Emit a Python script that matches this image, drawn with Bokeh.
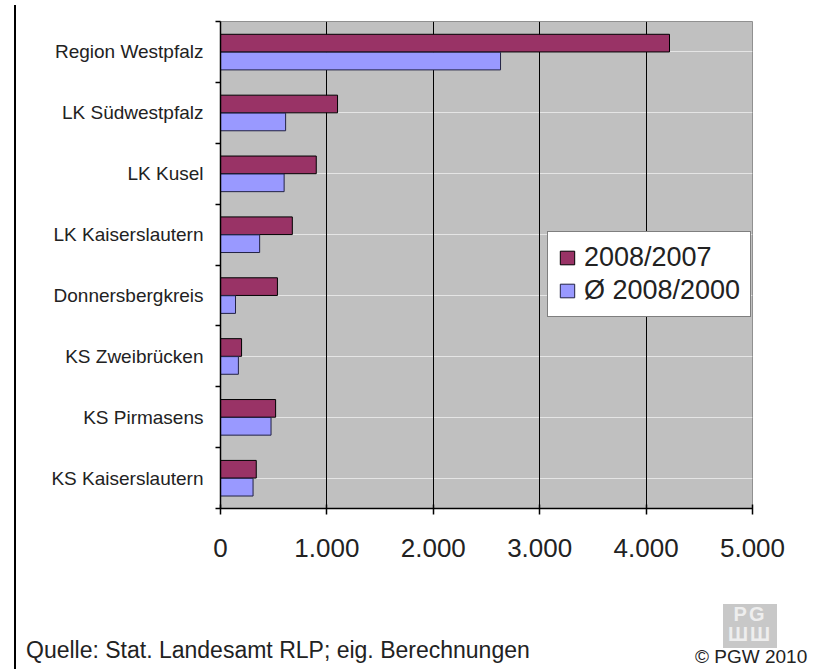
from bokeh.plotting import figure
from bokeh.models import (Range1d, FactorRange, FixedTicker, LinearAxis, CategoricalAxis,
                          Grid, ColumnDataSource, Div)
from bokeh.transform import dodge
from bokeh.layouts import row, column
from bokeh.embed import file_html
from bokeh.resources import INLINE

# ---- data ----
categories = ["Region Westpfalz", "LK Südwestpfalz", "LK Kusel", "LK Kaiserslautern",
              "Donnersbergkreis", "KS Zweibrücken", "KS Pirmasens", "KS Kaiserslautern"]
v_2008_2007 = [4220, 1100, 900, 675, 535, 198, 518, 336]
v_avg_2008_2000 = [2632, 612, 598, 368, 141, 168, 475, 306]
series_names = ["2008/2007", "Ø 2008/2000"]
x_ticks = [0, 1000, 2000, 3000, 4000, 5000]
x_tick_labels = ["0", "1.000", "2.000", "3.000", "4.000", "5.000"]
source_text = "Quelle: Stat. Landesamt RLP; eig. Berechnungen"
copyright_text = "© PGW 2010"

FONT = "Liberation Sans"
RED = "#993366"
BLUE = "#9999FF"

cats_rev = list(reversed(categories))
src = ColumnDataSource(dict(cat=categories, a=v_2008_2007, b=v_avg_2008_2000))

p = figure(width=793, height=588, x_range=Range1d(0, 5000),
           y_range=FactorRange(factors=cats_rev),
           x_axis_location=None, y_axis_location=None,
           output_backend="svg", toolbar_location=None,
           min_border_left=199, min_border_right=62, min_border_top=21, min_border_bottom=80)
p.background_fill_color = "#C0C0C0"
p.border_fill_color = "white"
p.outline_line_color = "#909090"
p.outline_line_width = 1

grid = Grid(dimension=0, ticker=FixedTicker(ticks=x_ticks[1:-1]))
grid.grid_line_color = "black"
grid.grid_line_width = 1
p.add_layout(grid)

p.hbar(y=dodge("cat", 0.145, range=p.y_range), left=0, right="a", height=0.29,
       fill_color=RED, line_color="black", line_width=1, source=src,
       legend_label=series_names[0])
p.hbar(y=dodge("cat", -0.15, range=p.y_range), left=0, right="b", height=0.29,
       fill_color=BLUE, line_color="#222244", line_width=1, source=src,
       legend_label=series_names[1])

# x axis
xa = LinearAxis(ticker=FixedTicker(ticks=x_ticks),
                major_label_overrides={t: l for t, l in zip(x_ticks, x_tick_labels)})
xa.axis_line_color = "black"
xa.axis_line_width = 1.5
xa.major_tick_line_color = "black"
xa.major_tick_line_width = 1.5
xa.major_tick_in = 4
xa.major_tick_out = 6
xa.minor_tick_line_color = None
xa.major_label_text_font = FONT
xa.major_label_text_font_size = "26px"
xa.major_label_text_color = "#222222"
xa.major_label_standoff = 24
p.add_layout(xa, "below")

# y axis: tick marks at category boundaries (synthetic coordinates)
bounds = list(range(len(categories) + 1))
ta = LinearAxis(ticker=FixedTicker(ticks=bounds),
                major_label_overrides={i: "" for i in bounds})
ta.axis_line_color = "black"
ta.axis_line_width = 1.5
ta.major_tick_line_color = "black"
ta.major_tick_line_width = 1.5
ta.major_tick_in = 0
ta.major_tick_out = 5
ta.minor_tick_line_color = None
ta.major_label_standoff = 0
ta.major_label_text_font_size = "1px"
p.add_layout(ta, "left")

# y axis: category labels
ca = CategoricalAxis()
ca.axis_line_color = None
ca.major_tick_line_color = None
ca.minor_tick_line_color = None
ca.major_label_text_font = FONT
ca.major_label_text_font_size = "19px"
ca.major_label_text_color = "#222222"
ca.major_label_standoff = 6
p.add_layout(ca, "left")

lg = p.legend[0]
lg.location = (327, 191)
lg.margin = 0
lg.padding = 10
lg.spacing = 2
lg.label_text_font = FONT
lg.label_text_font_size = "27px"
lg.label_text_color = "#222222"
lg.glyph_width = 18
lg.glyph_height = 17
lg.label_standoff = 8
lg.border_line_color = "black"
lg.border_line_width = 1
lg.background_fill_color = "white"
lg.background_fill_alpha = 1.0

line_div = Div(width=11, height=664, text="",
               styles={"border-right": "2px solid #000", "box-sizing": "border-box"})

footer_html = f'''
<div style="position:relative;width:788px;height:76px;overflow:hidden;font-family:'Liberation Sans',Arial,sans-serif;color:#222">
  <span style="position:absolute;left:0px;top:45px;font-size:23px;white-space:nowrap;line-height:25px">{source_text}</span>
  <div style="position:absolute;left:697px;top:11px;width:54px;height:44px;background:#c8c8c8;color:#eeeeee;font-weight:bold;font-size:20px;line-height:20px;text-align:center;letter-spacing:2px">PG<br>ШШ</div>
  <span style="position:absolute;left:669px;top:53px;font-size:19px;white-space:nowrap;line-height:21px">{copyright_text}</span>
</div>
'''
footer = Div(width=788, height=76, text=footer_html)

layout = row(line_div, column(p, footer, spacing=0), spacing=0)

open("out.html", "w").write(file_html(layout, INLINE))
